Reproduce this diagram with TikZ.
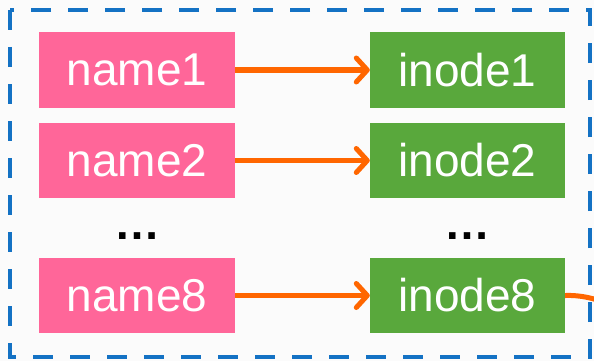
\documentclass[tikz,border=0pt]{standalone}
\usepackage{fontspec}
\setmainfont{Liberation Sans}
\usetikzlibrary{arrows.meta}
\definecolor{pinkbox}{RGB}{255,102,153}
\definecolor{greenbox}{RGB}{89,168,60}
\definecolor{arrorange}{RGB}{255,102,0}
\definecolor{borderblue}{RGB}{20,114,196}
\definecolor{bgc}{RGB}{251,251,251}
\begin{document}
\begin{tikzpicture}[x=1pt,y=-1pt,
  namebox/.style={fill=pinkbox,text=white,minimum width=196pt,minimum height=75pt,inner sep=0pt,font=\fontsize{46}{50}\selectfont},
  inodebox/.style={fill=greenbox,text=white,minimum width=195pt,minimum height=75pt,inner sep=0pt,font=\fontsize{46}{50}\selectfont},
  link/.style={draw=arrorange,line width=5pt,-{Straight Barb[length=11pt,width=24pt,round]}},
  dotsnode/.style={inner sep=0pt,font=\fontsize{46}{46}\selectfont\bfseries}]
\useasboundingbox (0,0) rectangle (594,361);
\fill[bgc] (0,0) rectangle (594,361);
\draw[borderblue,line width=4.5pt,dash pattern=on 20pt off 17pt] (10,10) rectangle (590,357);
\node[namebox] (n1) at (137,70) {name1};
\node[namebox] (n2) at (137,160.5) {name2};
\node[namebox] (n8) at (137,295.5) {name8};
\node[inodebox] (i1) at (467.5,70) {inode1};
\node[inodebox] (i2) at (467.5,160.5) {inode2};
\node[inodebox] (i8) at (467.5,295.5) {inode8};
\node[dotsnode] (d1) at (137,236) {…};
\node[dotsnode] (d2) at (467,236) {…};
\draw[link] (n1) -- (i1);
\draw[link] (n2) -- (i2);
\draw[link] (n8) -- (i8);
\coordinate (out) at (610,305);
\begin{scope}
\clip (0,0) rectangle (594,361);
\draw[arrorange,line width=5pt] (i8.east) .. controls (580,295) and (595,298) .. (out);
\end{scope}
\end{tikzpicture}
\end{document}
